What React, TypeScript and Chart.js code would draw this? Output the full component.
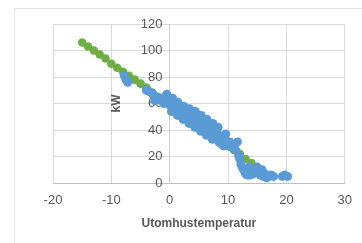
import React, { useEffect, useRef } from "react";
import { Chart, registerables } from "chart.js";

Chart.register(...registerables);

const xTitle = "Utomhustemperatur";
const yTitle = "kW";

const xTicks = [-20, -10, 0, 10, 20, 30];
const yTicks = [0, 20, 40, 60, 80, 100, 120];

// Measured data (blue)
const measuredX = [
  -7.8, -7.5, -7.2,
  -4, -3.5, -3, -2.8, -2.3, -2, -1.5, -1.2, -0.8, -0.5, -0.3,
  0, 0.2, 0.4, 0.6, 0.8, 1, 1.2, 1.5, 1.7, 2, 2.2, 2.5, 2.7, 3, 3.2, 3.5, 3.7,
  4, 4.2, 4.5, 4.7, 5, 5.2, 5.5, 5.7, 6, 6.2, 6.5, 6.7, 7, 7.2, 7.5, 7.7,
  8, 8.2, 8.5, 8.7, 9, 9.2, 9.5, 9.8, 10, 10.3, 10.6, 11, 11.3, 11.6, 11.8,
  12, 12.2, 12.5, 13, 13.3, 13.5, 13.8, 14, 14.3, 14.6, 15, 15.2, 15.5, 15.8,
  16, 16.3, 16.6, 17, 17.4, 17.8, 19.3, 19.7, 20.2,
  0.5, 1.4, 2.4, 3.4, 4.4, 5.4, 6.4, 7.4, 8.3, 9.6,
  0.3, 1.3, 2.3, 3.3, 4.3, 5.3, 6.3, 7.3, 8.4, 9.4,
  -1, -2.5, 12.8, 14.8, 13.6,
];
const measuredY = [
  81, 78, 76,
  70, 69, 68, 66, 65, 63, 64, 61, 65, 67, 62,
  59, 63, 57, 60, 55, 58, 54, 57, 52, 55, 51, 54, 49, 52, 48, 51, 46,
  50, 45, 52, 44, 48, 43, 47, 41, 45, 40, 43, 38, 42, 37, 40, 35,
  38, 33, 36, 30, 35, 28, 33, 30, 28, 31, 27, 29, 25, 31, 21,
  18, 14, 11, 7, 6, 9, 6, 10, 7, 11, 12, 8, 6, 10,
  5, 7, 4, 5, 6, 5, 5, 6, 5,
  64, 61, 58, 56, 54, 51, 48, 45, 42, 37,
  54, 51, 48, 45, 42, 39, 36, 33, 31, 29,
  60, 62, 9, 9, 12,
];

// Model line (green)
const modelX = [
  -15, -14, -13, -12, -11, -10, -9, -8, -7, -6, -5, -4, -3, -2, -1,
  0, 1, 2, 3, 4, 5, 6, 7, 8, 9, 10, 11, 12, 13, 14,
];
const modelY = [
  106, 103, 100, 97, 94, 90, 87, 84, 81, 78, 75, 72, 68, 65, 62,
  59, 56, 53, 50, 47, 43, 40, 37, 34, 31, 28, 25, 22, 18, 15,
];

const textColor = "#595959";
const gridColor = "#d9d9d9";
const fontFamily = "'Liberation Sans', Arial, sans-serif";

export default function App() {
  const ref = useRef<HTMLCanvasElement | null>(null);

  useEffect(() => {
    document.body.style.margin = "0";
    const canvas = ref.current;
    if (!canvas) return;

    const yTitlePlugin = {
      id: "yTitlePlugin",
      afterDraw(chart: any) {
        const { ctx, scales } = chart;
        const xs = scales.x;
        const ys = scales.y;
        const cx = xs.getPixelForValue(0) - 53;
        const cy = (ys.top + ys.bottom) / 2;
        ctx.save();
        ctx.translate(cx, cy);
        ctx.rotate(-Math.PI / 2);
        ctx.fillStyle = textColor;
        ctx.font = "bold 12px " + fontFamily;
        ctx.textAlign = "center";
        ctx.textBaseline = "middle";
        ctx.fillText(yTitle, 0, 0);
        ctx.restore();
      },
    };

    const chart = new Chart(canvas, {
      type: "scatter",
      data: {
        datasets: [
          {
            label: "Measured",
            data: measuredX.map((x, i) => ({ x, y: measuredY[i] })),
            backgroundColor: "#5b9bd5",
            borderColor: "#5b9bd5",
            borderWidth: 0,
            pointRadius: 4.5,
          },
          {
            label: "Model",
            data: modelX.map((x, i) => ({ x, y: modelY[i] })),
            backgroundColor: "#70ad47",
            borderColor: "#70ad47",
            borderWidth: 0,
            pointRadius: 4.3,
          },
        ],
      },
      options: {
        responsive: false,
        animation: false,
        devicePixelRatio: 1,
        layout: { padding: { left: 53, right: 16, top: 24, bottom: 0 } },
        plugins: {
          legend: { display: false },
          tooltip: { enabled: false },
        },
        scales: {
          x: {
            type: "linear",
            min: xTicks[0],
            max: xTicks[xTicks.length - 1],
            afterBuildTicks: (s: any) => {
              s.ticks = xTicks.map((v) => ({ value: v }));
            },
            afterFit: (s: any) => {
              s.height = 60;
            },
            grid: { color: gridColor, drawTicks: false },
            border: { color: "#bfbfbf" },
            ticks: {
              color: textColor,
              padding: 10,
              font: { family: fontFamily, size: 13 },
            },
            title: {
              display: true,
              text: xTitle,
              color: textColor,
              padding: { top: 4, bottom: 12 },
              font: { family: fontFamily, size: 12, weight: "bold" },
            },
          },
          y: {
            type: "linear",
            position: { x: 0 } as any,
            min: yTicks[0],
            max: yTicks[yTicks.length - 1],
            afterBuildTicks: (s: any) => {
              s.ticks = yTicks.map((v) => ({ value: v }));
            },
            grid: { color: gridColor, drawTicks: false },
            border: { color: "#c8d2e2" },
            ticks: {
              color: textColor,
              padding: 6,
              font: { family: fontFamily, size: 13 },
              callback: (v: any) => String(v) + "  ",
            },
          },
        },
      },
      plugins: [yTitlePlugin],
    });

    return () => chart.destroy();
  }, []);

  return (
    <div style={{ position: "relative", width: 362, height: 243, overflow: "hidden", background: "#fff" }}>
      <div
        style={{
          position: "absolute",
          left: 14,
          top: 8,
          width: 400,
          height: 300,
          border: "1px solid #e3e3e3",
          boxSizing: "border-box",
        }}
      />
      <canvas ref={ref} width={362} height={243} style={{ position: "absolute", left: 0, top: 0 }} />
    </div>
  );
}
